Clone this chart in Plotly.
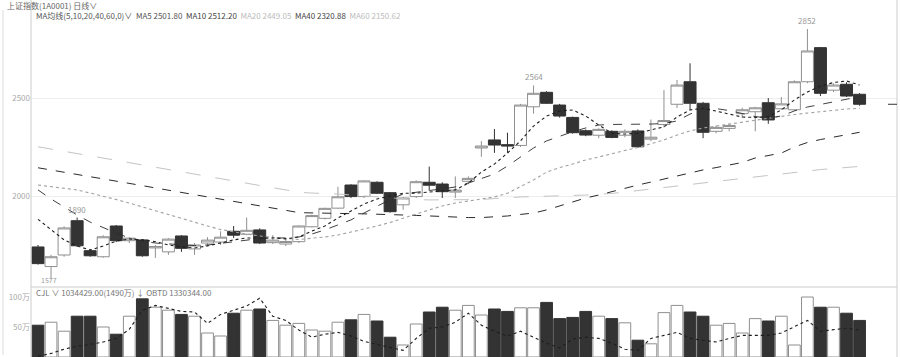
import plotly.graph_objects as go

# ---------------- data ----------------
idx = list(range(64))

open_ = [1740, 1640, 1699, 1874, 1721, 1690, 1847, 1772, 1776, 1735,
         1715, 1796, 1730, 1760, 1765, 1820, 1805, 1827, 1762, 1755,
         1767, 1843, 1886, 1938, 2056, 1997, 2070, 2017, 1955, 1997,
         2070, 2061, 2020, 2075, 2245, 2286, 2262, 2258, 2455, 2529,
         2464, 2401, 2333, 2310, 2330, 2310, 2332, 2290, 2365, 2468,
         2583, 2473, 2330, 2345, 2420, 2430, 2476, 2445, 2440, 2583,
         2757, 2540, 2570, 2519]
high_ = [1750, 1700, 1845, 1890, 1730, 1800, 1852, 1790, 1780, 1750,
         1785, 1800, 1760, 1790, 1820, 1847, 1890, 1835, 1800, 1780,
         1850, 1905, 1940, 2047, 2060, 2080, 2075, 2020, 1995, 2080,
         2150, 2070, 2100, 2100, 2280, 2342, 2323, 2470, 2564, 2535,
         2470, 2405, 2340, 2345, 2335, 2340, 2340, 2390, 2540, 2592,
         2677, 2480, 2360, 2370, 2450, 2455, 2500, 2505, 2590, 2852,
         2760, 2575, 2580, 2525]
low_ = [1650, 1577, 1690, 1740, 1690, 1685, 1765, 1760, 1690, 1684,
        1700, 1715, 1700, 1745, 1750, 1786, 1800, 1755, 1755, 1745,
        1760, 1840, 1880, 1935, 1990, 1990, 2010, 1915, 1930, 1990,
        2027, 1990, 1990, 2060, 2200, 2220, 2220, 2250, 2420, 2470,
        2400, 2318, 2305, 2295, 2295, 2300, 2245, 2280, 2350, 2449,
        2439, 2295, 2320, 2330, 2400, 2330, 2368, 2440, 2435, 2575,
        2510, 2530, 2505, 2460]
close_ = [1655, 1690, 1837, 1746, 1695, 1792, 1772, 1785, 1695, 1742,
          1780, 1733, 1750, 1775, 1790, 1800, 1825, 1760, 1775, 1768,
          1847, 1900, 1937, 1996, 1997, 2077, 2014, 1920, 1990, 2073,
          2055, 2022, 2030, 2090, 2255, 2260, 2255, 2464, 2524, 2473,
          2408, 2323, 2311, 2340, 2299, 2330, 2251, 2300, 2385, 2566,
          2473, 2325, 2350, 2360, 2440, 2450, 2388, 2470, 2583, 2740,
          2524, 2566, 2510, 2468]

ma5 = [1881, 1827, 1776, 1745, 1724, 1745, 1770, 1781, 1776, 1767,
       1750, 1740, 1735, 1745, 1760, 1776, 1786, 1786, 1786, 1781,
       1791, 1821, 1847, 1888, 1923, 1959, 1985, 2000, 2014, 2015,
       2020, 2026, 2031, 2066, 2122, 2163, 2219, 2281, 2357, 2408,
       2434, 2439, 2408, 2362, 2321, 2316, 2320, 2337, 2353, 2403,
       2439, 2448, 2434, 2418, 2403, 2401, 2405, 2439, 2490, 2531,
       2561, 2579, 2587, 2566]
ma10 = [2031, 1985, 1944, 1903, 1867, 1837, 1811, 1786, 1770, 1760,
        1755, 1750, 1747, 1750, 1758, 1765, 1776, 1783, 1786, 1786,
        1791, 1806, 1827, 1852, 1878, 1913, 1949, 1982, 2010, 2020,
        2028, 2036, 2046, 2066, 2089, 2112, 2153, 2199, 2245, 2281,
        2306, 2328, 2347, 2362, 2365, 2365, 2367, 2367, 2370, 2383,
        2418, 2444, 2446, 2436, 2421, 2405, 2398, 2408, 2434, 2454,
        2467, 2480, 2492, 2507]
ma20 = [2056, 2048, 2041, 2031, 2015, 2000, 1982, 1964, 1944, 1923,
        1903, 1883, 1865, 1847, 1829, 1816, 1806, 1796, 1788, 1783,
        1778, 1783, 1791, 1801, 1816, 1832, 1847, 1865, 1885, 1908,
        1929, 1949, 1964, 1974, 1985, 1995, 2014, 2046, 2082, 2122,
        2145, 2163, 2184, 2199, 2217, 2232, 2247, 2265, 2286, 2311,
        2332, 2347, 2357, 2367, 2378, 2388, 2398, 2408, 2416, 2423,
        2431, 2439, 2444, 2447]
ma40 = [2144, 2133, 2122, 2110, 2098, 2087, 2076, 2064, 2053, 2041,
        2030, 2018, 2007, 1995, 1984, 1972, 1961, 1950, 1938, 1927,
        1915, 1913, 1912, 1911, 1910, 1909, 1908, 1906, 1903, 1901,
        1898, 1895, 1893, 1890, 1890, 1893, 1898, 1906, 1913, 1929,
        1949, 1969, 1990, 2005, 2023, 2038, 2056, 2071, 2087, 2102,
        2120, 2133, 2145, 2158, 2171, 2194, 2207, 2219, 2250, 2273,
        2288, 2301, 2314, 2325]
ma60 = [2251, 2240, 2228, 2217, 2205, 2193, 2182, 2170, 2158, 2147,
        2135, 2123, 2112, 2100, 2089, 2077, 2065, 2054, 2042, 2031,
        2019, 2015, 2014, 2010, 2005, 2000, 1995, 1990, 1985, 1982,
        1980, 1980, 1980, 1980, 1982, 1987, 1992, 1995, 1997, 2000,
        2001, 2003, 2005, 2008, 2013, 2020, 2028, 2036, 2043, 2051,
        2059, 2066, 2074, 2082, 2089, 2097, 2105, 2112, 2120, 2128,
        2135, 2140, 2146, 2151]

# volume in 万
volume = [53, 58, 43, 68, 68, 50, 38, 68, 97, 83,
          78, 71, 68, 40, 35, 73, 78, 80, 61, 53,
          56, 45, 43, 58, 62, 71, 60, 33, 20, 55,
          75, 83, 78, 86, 70, 80, 76, 82, 82, 91,
          64, 66, 76, 68, 64, 57, 28, 22, 74, 86,
          75, 68, 53, 56, 40, 64, 60, 68, 20, 100,
          83, 83, 73, 61]
vol_ma = [1, 6, 13, 18, 21, 25, 31, 46, 78, 86,
          81, 76, 75, 56, 71, 78, 85, 98, 68, 61,
          45, 33, 38, 41, 35, 26, 21, 16, 11, 31,
          48, 50, 58, 73, 53, 43, 35, 43, 33, 23,
          15, 30, 33, 31, 23, 13, 11, 31, 36, 41,
          31, 28, 25, 31, 36, 36, 36, 40, 50, 61,
          43, 46, 48, 45]

price_ticks = [2000, 2500]
vol_ticks = [50, 100]
vol_tick_text = ["50万", "100万"]

header_text = "上证指数(1A0001) 日线∨"
ma_legend = [("MA均线(5,10,20,40,60,0)∨", "#555555"), ("MA5 2501.80", "#555555"),
             ("MA10 2512.20", "#444444"), ("MA20 2449.05", "#bbbbbb"),
             ("MA40 2320.88", "#444444"), ("MA60 2150.62", "#bbbbbb")]
vol_legend = "CJL ∨ 1034429.00(1490万) ↓ OBTD 1330344.00"
extreme_labels = [(59, "high", "2852"), (38, "high", "2564"), (3, "high", "1890"), (1, "low", "1577")]

# ---------------- figure ----------------
W, H = 900, 357
ML, MR, MT, MB = 31, 3, 14, 0
PW, PH = W - ML - MR, H - MT - MB


def px(x):
    return (x - ML) / PW


def py(y):
    return (H - MB - y) / PH


FONT = "Noto Sans CJK SC, Noto Sans, DejaVu Sans, sans-serif"
UP_LINE, DOWN = "#8f8f8f", "#333333"

fig = go.Figure()

fig.add_trace(go.Candlestick(
    x=idx, open=open_, high=high_, low=low_, close=close_,
    increasing=dict(line=dict(color=UP_LINE, width=1), fillcolor="#ffffff"),
    decreasing=dict(line=dict(color=DOWN, width=1), fillcolor=DOWN),
    whiskerwidth=0, showlegend=False, hoverinfo="skip",
    xaxis="x", yaxis="y"))

ma_styles = [
    (ma60, "#c4c4c4", "longdash", 1.0),
    (ma40, "#2a2a2a", "dash", 1.0),
    (ma20, "#a0a0a0", "dot", 1.1),
    (ma10, "#2a2a2a", "dash", 0.9),
    (ma5, "#1e1e1e", "dot", 1.1),
]
for vals, col, dash, w in ma_styles:
    fig.add_trace(go.Scatter(x=idx, y=vals, mode="lines",
                             line=dict(color=col, dash=dash, width=w),
                             showlegend=False, hoverinfo="skip",
                             xaxis="x", yaxis="y"))

up = [c >= o for o, c in zip(open_, close_)]
fig.add_trace(go.Bar(
    x=idx, y=volume, width=0.9,
    marker=dict(color=["#ffffff" if u else DOWN for u in up],
                line=dict(color=[UP_LINE if u else DOWN for u in up], width=1)),
    showlegend=False, hoverinfo="skip", xaxis="x2", yaxis="y2"))
fig.add_trace(go.Scatter(x=idx, y=vol_ma, mode="lines",
                         line=dict(color="#1e1e1e", dash="dot", width=1.1),
                         showlegend=False, hoverinfo="skip",
                         xaxis="x2", yaxis="y2"))

xr = [-0.537, 65.87]
price_range = [1535.7, 2928.6]
vol_range = [0, 116.7]
vol_dom = (H - 287) / PH

fig.update_layout(
    width=W, height=H,
    margin=dict(l=ML, r=MR, t=MT, b=MB),
    paper_bgcolor="white", plot_bgcolor="white",
    boxgap=0.08, boxgroupgap=0,
    barmode="overlay",
    font=dict(family=FONT, size=8, color="#555555"),
    xaxis=dict(domain=[0, 1], range=xr, showticklabels=False, showgrid=False,
               zeroline=False, rangeslider=dict(visible=False), anchor="y"),
    xaxis2=dict(domain=[0, 1], range=xr, showticklabels=False, showgrid=False,
                zeroline=False, anchor="y2", matches="x"),
    yaxis=dict(domain=[vol_dom, 1], range=price_range, tickvals=price_ticks,
               showgrid=True, gridcolor="#eeeeee", gridwidth=1, zeroline=False,
               tickfont=dict(size=8, color="#aaaaaa"), ticks="", anchor="x"),
    yaxis2=dict(domain=[0, vol_dom], range=vol_range, tickvals=vol_ticks,
                ticktext=vol_tick_text, showgrid=False, zeroline=False,
                tickfont=dict(size=8, color="#aaaaaa"), ticks="", anchor="x2"),
)

shapes = [
    dict(type="line", xref="paper", yref="paper", x0=0, x1=1, y0=vol_dom, y1=vol_dom,
         line=dict(color="#cccccc", width=1)),
    dict(type="line", xref="paper", yref="paper", x0=0, x1=0, y0=0, y1=py(0),
         line=dict(color="#cccccc", width=1)),
    dict(type="line", xref="paper", yref="paper", x0=1, x1=1, y0=0, y1=py(0),
         line=dict(color="#cccccc", width=1)),
    dict(type="line", xref="paper", yref="paper", x0=px(3), x1=px(3), y0=py(355), y1=py(10),
         line=dict(color="#dddddd", width=1)),
    dict(type="line", xref="paper", yref="y", x0=px(888), x1=1, y0=close_[-1], y1=close_[-1],
         line=dict(color="#333333", width=1)),
]
fig.update_layout(shapes=shapes)

ann = [
    dict(x=px(5), y=py(5), xref="paper", yref="paper", text=header_text,
         showarrow=False, xanchor="left", yanchor="middle",
         font=dict(size=8, color="#666666")),
    dict(x=px(34), y=py(16), xref="paper", yref="paper",
         text="  ".join(f"<span style='color:{c}'>{t}</span>" for t, c in ma_legend),
         showarrow=False, xanchor="left", yanchor="middle", font=dict(size=8)),
    dict(x=px(34), y=py(292), xref="paper", yref="paper", text=vol_legend,
         showarrow=False, xanchor="left", yanchor="middle",
         font=dict(size=8, color="#777777")),
]
for k, kind, txt in extreme_labels:
    if kind == "high":
        ann.append(dict(x=k, y=high_[k], xref="x", yref="y", text=txt, showarrow=False,
                        yanchor="bottom", yshift=1, font=dict(size=8, color="#999999")))
    else:
        ann.append(dict(x=k, y=low_[k], xref="x", yref="y", text=txt, showarrow=False,
                        xanchor="left", xshift=-12, yanchor="middle", yshift=-1,
                        font=dict(size=7, color="#999999")))
fig.update_layout(annotations=ann)

fig.write_html("out.html",
               config={"displayModeBar": False},
               post_script="document.body.style.margin='0';document.body.style.overflow='hidden';")
